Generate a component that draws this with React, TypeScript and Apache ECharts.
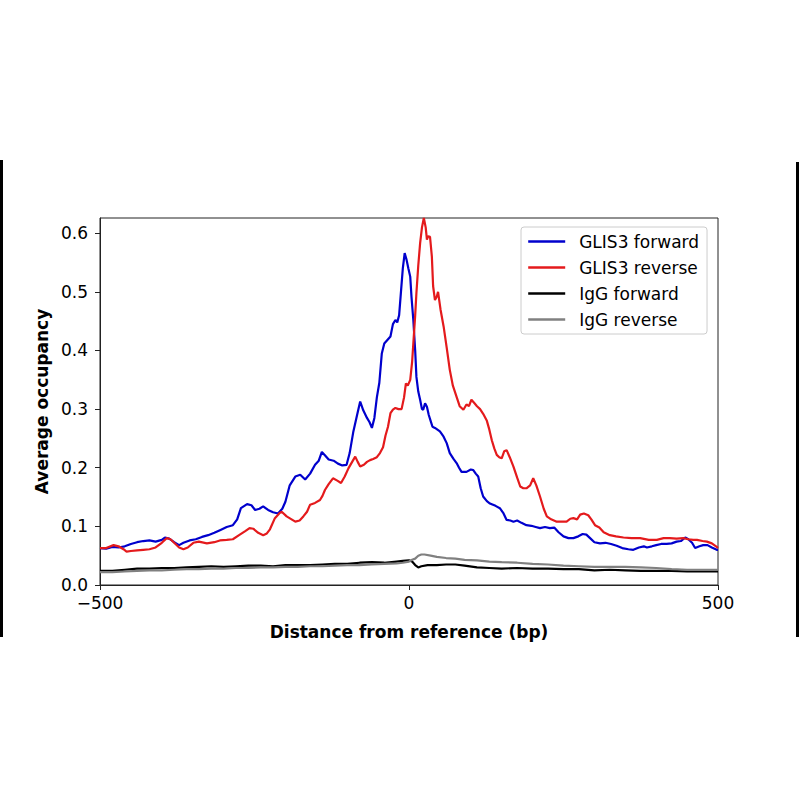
import React, { useEffect, useRef } from "react";
import * as echarts from "echarts";

const seriesNames = ["GLIS3 forward", "GLIS3 reverse", "IgG forward", "IgG reverse"];
const seriesColors = ["#0000cd", "#e41a1c", "#000000", "#808080"];
const xTicks = [-500, 0, 500];
const yTicks = [0, 0.1, 0.2, 0.3, 0.4, 0.5, 0.6];

const glisForward: number[][] = [
  [-500, 0.063], [-490, 0.062], [-480, 0.065], [-470, 0.064], [-460, 0.066], [-450, 0.07], [-440, 0.073],
  [-430, 0.075], [-420, 0.076], [-410, 0.074], [-400, 0.077], [-395, 0.081], [-388, 0.079], [-380, 0.073],
  [-372, 0.068], [-365, 0.072], [-355, 0.076], [-345, 0.078], [-335, 0.082], [-325, 0.085], [-315, 0.089],
  [-305, 0.094], [-295, 0.099], [-285, 0.102], [-278, 0.112], [-272, 0.131], [-262, 0.138], [-255, 0.136],
  [-249, 0.128], [-242, 0.13], [-236, 0.134], [-228, 0.128], [-220, 0.124], [-212, 0.122], [-205, 0.13],
  [-200, 0.142], [-193, 0.17], [-184, 0.185], [-176, 0.188], [-168, 0.18], [-160, 0.19], [-152, 0.205],
  [-146, 0.212], [-141, 0.227], [-135, 0.22], [-130, 0.214], [-122, 0.212], [-115, 0.207], [-108, 0.204],
  [-101, 0.205], [-96, 0.225], [-90, 0.262], [-84, 0.29], [-79, 0.313], [-74, 0.298], [-68, 0.285],
  [-64, 0.278], [-60, 0.268], [-56, 0.285], [-52, 0.32], [-48, 0.345], [-44, 0.395], [-40, 0.412],
  [-35, 0.418], [-30, 0.424], [-26, 0.445], [-22, 0.452], [-19, 0.448], [-16, 0.46], [-13, 0.5],
  [-10, 0.54], [-7, 0.566], [-4, 0.555], [-1, 0.54], [2, 0.526], [4, 0.492], [7, 0.452], [10, 0.4],
  [12, 0.355], [15, 0.33], [18, 0.316], [21, 0.3], [23, 0.299], [26, 0.31], [29, 0.304], [32, 0.29],
  [35, 0.28], [38, 0.27], [42, 0.268], [46, 0.265], [50, 0.262], [56, 0.253], [61, 0.242], [66, 0.225],
  [72, 0.215], [77, 0.208], [81, 0.2], [85, 0.193], [93, 0.193], [100, 0.197], [104, 0.196], [108, 0.19],
  [112, 0.185], [116, 0.165], [120, 0.151], [126, 0.143], [131, 0.139], [140, 0.135], [147, 0.131],
  [153, 0.122], [158, 0.111], [164, 0.11], [169, 0.108], [175, 0.11], [182, 0.106], [190, 0.102],
  [198, 0.101], [205, 0.099], [212, 0.097], [220, 0.099], [228, 0.097], [235, 0.098], [242, 0.09],
  [250, 0.083], [258, 0.08], [266, 0.08], [274, 0.083], [281, 0.087], [287, 0.086], [293, 0.08],
  [300, 0.073], [309, 0.071], [318, 0.072], [327, 0.07], [336, 0.067], [345, 0.063], [355, 0.061],
  [363, 0.06], [372, 0.064], [380, 0.066], [385, 0.064], [393, 0.066], [400, 0.068], [408, 0.07],
  [417, 0.07], [425, 0.071], [433, 0.074], [440, 0.075], [447, 0.081], [452, 0.078], [458, 0.072],
  [463, 0.063], [470, 0.066], [476, 0.068], [483, 0.068], [490, 0.064], [498, 0.06], [500, 0.06],
];

const glisReverse: number[][] = [
  [-500, 0.063], [-490, 0.063], [-478, 0.068], [-470, 0.066], [-462, 0.061], [-457, 0.057], [-450, 0.058],
  [-440, 0.059], [-430, 0.06], [-420, 0.061], [-410, 0.064], [-400, 0.072], [-392, 0.08], [-386, 0.078],
  [-380, 0.072], [-372, 0.064], [-365, 0.061], [-358, 0.064], [-349, 0.072], [-340, 0.074], [-327, 0.071],
  [-315, 0.073], [-306, 0.076], [-295, 0.077], [-285, 0.078], [-275, 0.085], [-265, 0.092], [-258, 0.097],
  [-252, 0.096], [-244, 0.089], [-236, 0.085], [-230, 0.088], [-225, 0.095], [-217, 0.114], [-210, 0.122],
  [-206, 0.125], [-198, 0.117], [-190, 0.112], [-184, 0.108], [-177, 0.11], [-171, 0.117], [-165, 0.125],
  [-160, 0.137], [-152, 0.14], [-144, 0.145], [-140, 0.152], [-136, 0.162], [-130, 0.172], [-123, 0.182],
  [-116, 0.178], [-110, 0.174], [-104, 0.185], [-98, 0.199], [-92, 0.21], [-87, 0.219], [-83, 0.21],
  [-79, 0.202], [-73, 0.205], [-68, 0.21], [-63, 0.213], [-58, 0.215], [-52, 0.218], [-47, 0.225],
  [-42, 0.235], [-38, 0.255], [-34, 0.27], [-30, 0.293], [-26, 0.299], [-22, 0.302], [-17, 0.3],
  [-12, 0.3], [-8, 0.32], [-5, 0.344], [-2, 0.34], [2, 0.35], [5, 0.38], [7, 0.412], [10, 0.46],
  [12, 0.498], [15, 0.545], [18, 0.583], [21, 0.61], [24, 0.626], [27, 0.61], [29, 0.589], [31, 0.595],
  [34, 0.594], [37, 0.56], [39, 0.51], [42, 0.486], [45, 0.492], [47, 0.5], [51, 0.47], [56, 0.441],
  [61, 0.405], [66, 0.367], [71, 0.34], [77, 0.321], [82, 0.305], [88, 0.299], [93, 0.308], [97, 0.305],
  [101, 0.316], [106, 0.31], [110, 0.305], [115, 0.3], [120, 0.292], [126, 0.28], [130, 0.265],
  [134, 0.247], [138, 0.233], [142, 0.222], [146, 0.218], [150, 0.216], [154, 0.228], [158, 0.23],
  [163, 0.218], [169, 0.202], [175, 0.183], [180, 0.168], [185, 0.165], [190, 0.165], [196, 0.17],
  [201, 0.182], [206, 0.17], [212, 0.151], [218, 0.13], [223, 0.117], [230, 0.112], [239, 0.108],
  [247, 0.108], [255, 0.108], [261, 0.113], [266, 0.114], [272, 0.112], [277, 0.12], [283, 0.122],
  [290, 0.119], [295, 0.112], [301, 0.102], [308, 0.098], [315, 0.09], [325, 0.085], [335, 0.083],
  [347, 0.081], [360, 0.08], [374, 0.08], [388, 0.077], [401, 0.077], [412, 0.08], [422, 0.08],
  [433, 0.079], [444, 0.08], [452, 0.078], [460, 0.077], [466, 0.077], [475, 0.075], [482, 0.074],
  [490, 0.071], [498, 0.065], [500, 0.063],
];

const igGForward: number[][] = [
  [-500, 0.024], [-480, 0.024], [-460, 0.026], [-440, 0.028], [-420, 0.028], [-400, 0.029], [-380, 0.029],
  [-360, 0.03], [-340, 0.031], [-320, 0.032], [-300, 0.031], [-280, 0.032], [-260, 0.033], [-240, 0.033],
  [-220, 0.032], [-200, 0.034], [-180, 0.034], [-160, 0.034], [-140, 0.035], [-120, 0.036], [-100, 0.036],
  [-80, 0.038], [-60, 0.039], [-40, 0.038], [-20, 0.04], [-10, 0.041], [0, 0.042], [5, 0.04], [10, 0.034],
  [15, 0.03], [20, 0.032], [30, 0.034], [45, 0.034], [60, 0.035], [75, 0.035], [90, 0.033], [110, 0.03],
  [130, 0.029], [150, 0.028], [175, 0.029], [200, 0.028], [225, 0.028], [250, 0.027], [275, 0.027],
  [300, 0.025], [325, 0.026], [350, 0.025], [375, 0.024], [400, 0.024], [425, 0.024], [450, 0.023],
  [475, 0.023], [500, 0.023],
];

const igGReverse: number[][] = [
  [-500, 0.022], [-480, 0.022], [-460, 0.023], [-440, 0.024], [-420, 0.025], [-400, 0.025], [-380, 0.026],
  [-360, 0.027], [-340, 0.027], [-320, 0.028], [-300, 0.028], [-280, 0.029], [-260, 0.029], [-240, 0.03],
  [-220, 0.03], [-200, 0.031], [-180, 0.031], [-160, 0.032], [-140, 0.032], [-120, 0.033], [-100, 0.034],
  [-80, 0.034], [-60, 0.035], [-40, 0.036], [-20, 0.037], [-10, 0.038], [0, 0.04], [5, 0.043], [10, 0.045],
  [15, 0.05], [20, 0.052], [25, 0.052], [35, 0.05], [45, 0.048], [60, 0.046], [75, 0.045], [90, 0.043],
  [110, 0.042], [130, 0.04], [150, 0.039], [175, 0.038], [200, 0.036], [225, 0.035], [250, 0.033],
  [275, 0.032], [300, 0.031], [325, 0.031], [350, 0.031], [375, 0.03], [400, 0.029], [425, 0.027],
  [450, 0.026], [475, 0.026], [500, 0.026],
];

const allData = [glisForward, glisReverse, igGForward, igGReverse];

const FONT = "DejaVu Sans";

export default function App() {
  const ref = useRef<HTMLDivElement>(null);
  useEffect(() => {
    if (!ref.current) return;
    const chart = echarts.init(ref.current, null, { renderer: "svg" });
    chart.setOption({
      animation: false,
      backgroundColor: "#ffffff",
      textStyle: { fontFamily: FONT },
      grid: {
        left: 100,
        top: 218,
        width: 618,
        height: 367,
        show: true,
        borderColor: "#222",
        borderWidth: 1,
        backgroundColor: "transparent",
      },
      legend: {
        orient: "vertical",
        left: 521,
        top: 227,
        padding: [6, 8, 6, 6],
        itemWidth: 37,
        itemHeight: 17,
        itemGap: 9,
        backgroundColor: "rgba(255,255,255,0.8)",
        borderColor: "#cccccc",
        borderWidth: 1,
        borderRadius: 3,
        itemStyle: { color: "transparent", borderColor: "transparent", borderWidth: 0, opacity: 0 },
        lineStyle: { width: 2.4 },
        data: seriesNames,
        textStyle: { fontFamily: FONT, fontSize: 17, color: "#000", padding: [0, 0, 0, 9] },
      },
      xAxis: {
        type: "value",
        min: -500,
        max: 500,
        interval: 500,
        name: "Distance from reference (bp)",
        nameLocation: "middle",
        nameGap: 38,
        nameTextStyle: { fontFamily: FONT, fontSize: 17, fontWeight: "bold", color: "#000" },
        axisLine: { show: true, onZero: false, lineStyle: { color: "#222", width: 1 } },
        axisTick: { show: true, length: 5, lineStyle: { color: "#222" }, customValues: xTicks },
        axisLabel: {
          fontFamily: FONT,
          fontSize: 17,
          color: "#000",
          margin: 9,
          customValues: xTicks,
          formatter: (v: number) => (v < 0 ? "\u2212" + Math.abs(v) : String(v)),
        },
        splitLine: { show: false },
      },
      yAxis: {
        type: "value",
        min: 0,
        max: 0.626,
        name: "Average occupancy",
        nameLocation: "middle",
        nameGap: 47,
        nameRotate: 90,
        nameTextStyle: { fontFamily: FONT, fontSize: 17, fontWeight: "bold", color: "#000" },
        axisLine: { show: true, onZero: false, lineStyle: { color: "#222", width: 1 } },
        axisTick: { show: true, length: 5, lineStyle: { color: "#222" }, customValues: yTicks },
        axisLabel: {
          fontFamily: FONT,
          fontSize: 17,
          color: "#000",
          margin: 12,
          customValues: yTicks,
          formatter: (v: number) => v.toFixed(1),
        },
        splitLine: { show: false },
      },
      series: seriesNames.map((name, i) => ({
        name,
        type: "line",
        data: allData[i],
        showSymbol: false,
        symbol: "none",
        color: seriesColors[i],
        lineStyle: { color: seriesColors[i], width: 2.2 },
        z: 2 + i,
      })),
      graphic: [
        { type: "rect", shape: { x: 0, y: 160, width: 3, height: 477 }, style: { fill: "#000" } },
        { type: "rect", shape: { x: 796, y: 162, width: 3, height: 475 }, style: { fill: "#000" } },
      ],
    });
    return () => chart.dispose();
  }, []);
  return (
    <div
      ref={ref}
      style={{ position: "absolute", left: 0, top: 0, width: 800, height: 800 }}
    />
  );
}
